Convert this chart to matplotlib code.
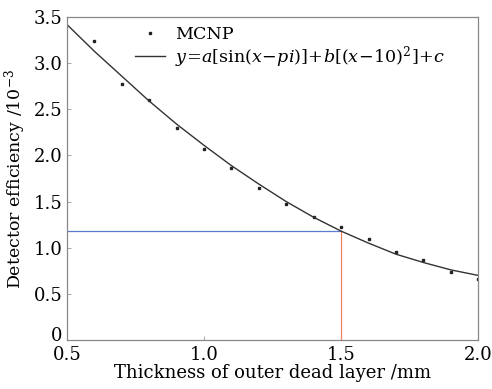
import matplotlib
matplotlib.use("Agg")
import matplotlib.pyplot as plt
import matplotlib.transforms as mtransforms
import numpy as np

plt.rcParams['font.family'] = ['DejaVu Serif']
plt.rcParams['mathtext.fontset'] = 'dejavuserif'

# MCNP points
mcnp_x = [0.6, 0.7, 0.8, 0.9, 1.0, 1.1, 1.2, 1.3, 1.4, 1.5, 1.6, 1.7, 1.8, 1.9, 2.0]
mcnp_y = [3.24, 2.78, 2.60, 2.30, 2.07, 1.86, 1.65, 1.47, 1.33, 1.22, 1.10, 0.95, 0.87, 0.74, 0.66]

# fitted curve
fit_x = [0.5, 0.6, 0.7, 0.8, 0.9, 1.0, 1.1, 1.2, 1.3, 1.4, 1.5, 1.6, 1.7, 1.8, 1.9, 2.0]
fit_y = [3.42, 3.13, 2.86, 2.59, 2.34, 2.11, 1.89, 1.69, 1.50, 1.33, 1.18, 1.05, 0.93, 0.84, 0.76, 0.70]

# reference lines
ref_x = 1.5
ref_y = 1.18

fig = plt.figure(figsize=(4.92, 3.89), dpi=100)
ax = fig.add_axes([0.136, 0.126, 0.836, 0.830])

ax.plot([0.5, ref_x], [ref_y, ref_y], color='#5b7bd0', lw=0.9)
ax.plot([ref_x, ref_x], [0, ref_y], color='#f08060', lw=0.9)
ax.plot(mcnp_x, mcnp_y, linestyle='none', marker='s', ms=2.0, color='#222222', label='MCNP')
ax.plot(fit_x, fit_y, color='#333333', lw=1.0,
        label=r'$y\!=\!a[\mathrm{sin}(x\!-\!pi)]\!+\!b[(x\!-\!10)^2]\!+\!c$')

ax.set_xlim(0.5, 2.0)
ax.set_ylim(0, 3.5)
ax.set_xticks([0.5, 1.0, 1.5, 2.0])
ax.set_xticklabels(['0.5', '1.0', '1.5', '2.0'])
ax.set_yticks([0, 0.5, 1.0, 1.5, 2.0, 2.5, 3.0, 3.5])
ax.set_yticklabels(['0', '0.5', '1.0', '1.5', '2.0', '2.5', '3.0', '3.5'])
ax.tick_params(direction='in', length=3, width=0.6, color='#999999', labelsize=13)
ax.tick_params(axis='x', pad=4)
ax.tick_params(axis='y', pad=3)
for s in ax.spines.values():
    s.set_color('#888888')
    s.set_linewidth(0.9)

# nudge the "0" y tick label up a little so it does not collide with "0.5"
zero_lbl = ax.get_yticklabels()[0]
zero_lbl.set_transform(zero_lbl.get_transform() +
                       mtransforms.ScaledTranslation(0, 4 / 72, fig.dpi_scale_trans))

ax.set_xlabel('Thickness of outer dead layer /mm', fontsize=13, labelpad=0)
ax.set_ylabel(r'Detector efficiency /10$^{-3}$', fontsize=12.5, labelpad=4)

leg = ax.legend(loc='upper left', bbox_to_anchor=(0.14, 1.005), frameon=False,
                fontsize=12.6, handlelength=1.7, handletextpad=0.6, borderaxespad=0.2,
                labelspacing=0.05)

fig.savefig('out.png', dpi=100)
